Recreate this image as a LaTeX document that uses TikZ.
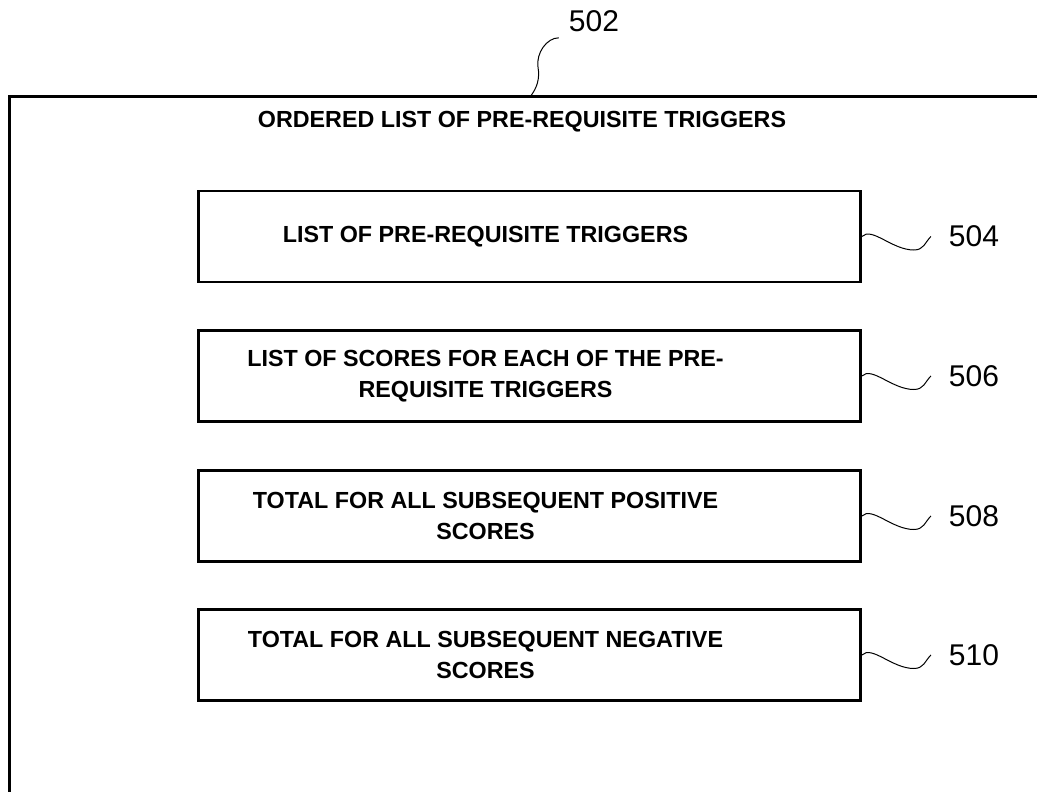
\documentclass[tikz,border=0pt]{standalone}
\usepackage{fontspec}
\setmainfont{Liberation Sans}
\usepackage{tikz}
\usetikzlibrary{positioning, calc}

\tikzset{
    border/.style={black, line width=3pt},
    heading/.style={font=\bfseries\fontsize{23.3}{31}\selectfont, inner sep=0pt},
    field/.style={draw=black, line width=2.8pt, minimum width=662, minimum height=91, inner sep=0pt},
    fieldtext/.style={align=center, inner sep=0pt, font=\bfseries\fontsize{23.3}{31}\selectfont},
    tag/.style={font=\fontsize{30}{30}\selectfont, inner sep=0pt, outer xsep=18pt, anchor=west},
    wave/.style={black, line width=1pt}
}

\begin{document}
\begin{tikzpicture}[x=1pt, y=-1pt]
    \def\midx{529.5}
    \def\textshift{-44}
    \def\tagdist{69}

    \useasboundingbox (0,0) rectangle (1037,792);

    % border
    \coordinate (f1) at (9,792);
    \coordinate (f2) at (9,97);
    \coordinate (f3) at (1037,97);
    \draw[border] (f1) -- (f2) -- (f3);

    \node[heading] (title) at (522,122) {ORDERED LIST OF PRE-REQUISITE TRIGGERS};

    % 502 label
    \coordinate (c502) at (530,97);
    \node[font=\fontsize{30}{30}\selectfont, inner sep=0pt] (l502) at (594,21) {502};
    \draw[wave]
        (c502) .. controls +(7,-9) and +(2,12) .. ++(8,-30)
        .. controls +(-2,-14) and +(-12,0) .. ($(l502.south west)+(-10,6)$);

    % fields with their tags
    \foreach \i/\y/\txt in {
        504/236.5/{LIST OF PRE-REQUISITE TRIGGERS},
        506/376/{LIST OF SCORES FOR EACH OF THE PRE-\\REQUISITE TRIGGERS},
        508/516/{TOTAL FOR ALL SUBSEQUENT POSITIVE\\SCORES},
        510/655/{TOTAL FOR ALL SUBSEQUENT NEGATIVE\\SCORES}}{

        \node[field] (b\i) at (\midx,\y) {};
        \node[fieldtext] (t\i) at ($(b\i.center)+(\textshift,0)$) {\txt};
        \node[tag] (l\i) at ($(b\i.east)+(\tagdist,0)$) {\i};
        \draw[wave]
            (b\i.east) .. controls +(10,-10) and +(-22,0) .. ++(52,13.5)
            .. controls +(10,0) and +(-6,6) .. (l\i.west);
    }
\end{tikzpicture}
\end{document}
